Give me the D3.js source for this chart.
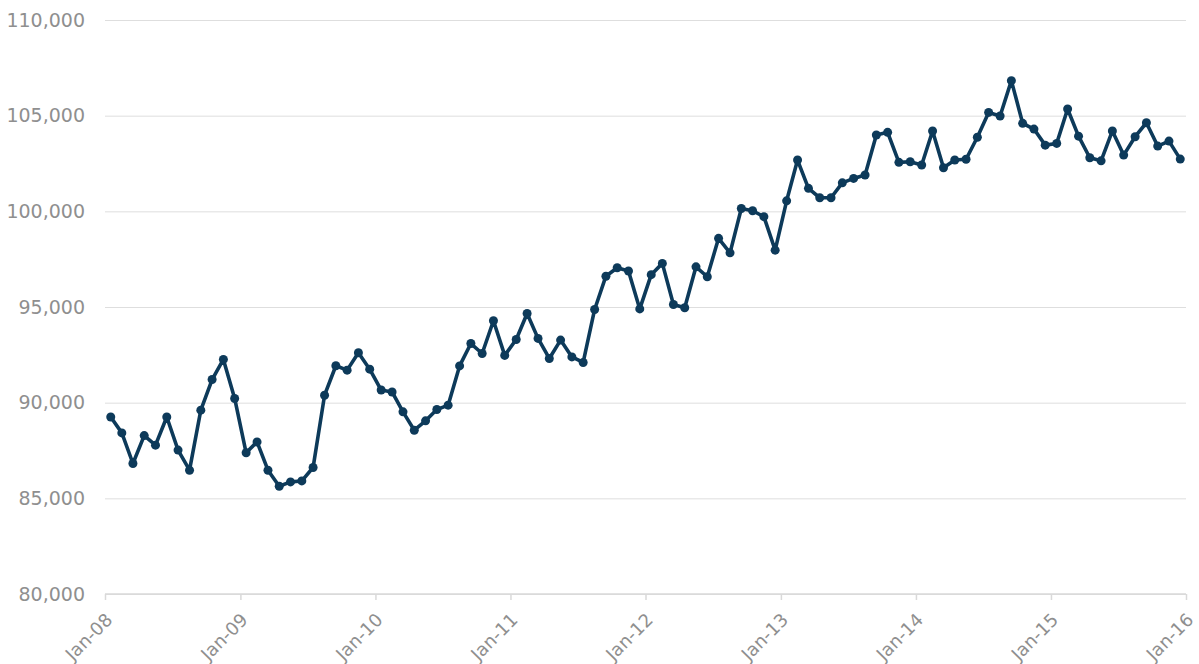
<!DOCTYPE html>
<html>
<head>
<meta charset="utf-8">
<script src="https://cdn.jsdelivr.net/npm/d3@7"></script>
<style>
  html, body { margin: 0; padding: 0; background: #fff; }
  svg { display: block; }
</style>
</head>
<body>
<svg id="chart" width="1199" height="664"></svg>
<script>
// Monthly values, Jan-2008 .. Dec-2015
const values = [
  89250, 88420, 86820, 88280, 87780, 89250, 87520, 86470, 89610, 91210, 92260, 90220,
  87380, 87950, 86470, 85630, 85860, 85910, 86610, 90390, 91930, 91700, 92610, 91750,
  90660, 90560, 89520, 88560, 89050, 89640, 89870, 91920, 93090, 92570, 94280, 92470,
  93300, 94660, 93360, 92310, 93270, 92390, 92100, 94870, 96610, 97050, 96880, 94900,
  96690, 97280, 95130, 94960, 97100, 96580, 98590, 97830, 100150, 100030, 99720, 97970,
  100550, 102680, 101200, 100710, 100710, 101490, 101720, 101900, 103990, 104130, 102560, 102590,
  102420, 104200, 102280, 102680, 102720, 103870, 105170, 104980, 106830, 104600, 104300, 103460,
  103550, 105350, 103930, 102800, 102640, 104200, 102940, 103900, 104630, 103410, 103670, 102730
];
const startYear = 2008;
const endYear = 2016;
const yTicks = [80000, 85000, 90000, 95000, 100000, 105000, 110000];
const xTickLabels = ["Jan-08", "Jan-09", "Jan-10", "Jan-11", "Jan-12", "Jan-13", "Jan-14", "Jan-15", "Jan-16"];

const months = d3.timeMonth.range(new Date(startYear, 0, 1), new Date(endYear, 0, 1));
const data = months.map((m, i) => ({ date: m, value: values[i] }));
const yearTicks = d3.timeYear.range(new Date(startYear, 0, 1), new Date(endYear, 0, 2));

const svg = d3.select("#chart");
const plotL = 105, plotR = 1186, plotT = 20, plotB = 594;

const x = d3.scaleTime()
  .domain([new Date(startYear, 0, 1), new Date(endYear, 0, 1)])
  .range([plotL, plotR]);
const y = d3.scaleLinear().domain([80000, 110000]).range([plotB, plotT]);

const midX = d => {
  const a = x(d.date), b = x(d3.timeMonth.offset(d.date, 1));
  return (a + b) / 2;
};

const font = "'DejaVu Sans', sans-serif";
const textColor = "#8f8f8f";

// gridlines + y labels
const yAxis = d3.axisLeft(y)
  .tickValues(yTicks)
  .tickSize(-(plotR - plotL))
  .tickPadding(20)
  .tickFormat(d3.format(","));
const gy = svg.append("g").attr("transform", `translate(${plotL},0)`).call(yAxis);
gy.select(".domain").remove();
gy.selectAll(".tick line").attr("stroke", "#dedede").attr("stroke-width", 1);
gy.selectAll(".tick text")
  .attr("fill", textColor)
  .style("font-family", font)
  .style("font-size", "19px");

// x axis
const xAxis = d3.axisBottom(x)
  .tickValues(yearTicks)
  .tickSize(6)
  .tickFormat((d, i) => xTickLabels[i]);
const gx = svg.append("g").attr("transform", `translate(0,${plotB})`).call(xAxis);
gx.select(".domain").attr("stroke", "#d9d9d9").attr("stroke-width", 1.5)
  .attr("d", `M${plotL},0H${plotR}`);
gx.selectAll(".tick line").attr("stroke", "#d9d9d9").attr("stroke-width", 1.5);
gx.selectAll(".tick text")
  .attr("fill", textColor)
  .style("font-family", font)
  .style("font-size", "18px")
  .attr("text-anchor", "end")
  .attr("x", 0)
  .attr("y", 0)
  .attr("dx", 0)
  .attr("dy", 0)
  .attr("transform", "translate(8,27) rotate(-45)");

// line
const lineColor = "#0d3a5a";
const line = d3.line().x(midX).y(d => y(d.value));
svg.append("path")
  .datum(data)
  .attr("fill", "none")
  .attr("stroke", lineColor)
  .attr("stroke-width", 3.6)
  .attr("stroke-linejoin", "round")
  .attr("d", line);

svg.append("g").selectAll("circle")
  .data(data)
  .join("circle")
  .attr("cx", midX)
  .attr("cy", d => y(d.value))
  .attr("r", 4.5)
  .attr("fill", lineColor);
</script>
</body>
</html>
